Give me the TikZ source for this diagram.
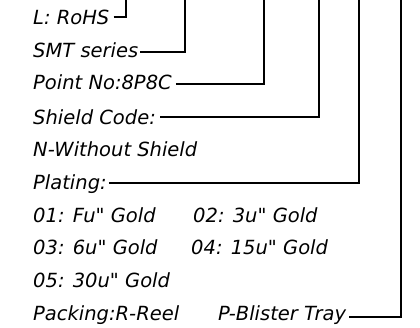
\documentclass[tikz,border=0pt]{standalone}
\usepackage{fontspec}
\setmainfont{DejaVu Sans}[Ligatures=TeXOff]
\begin{document}
\begin{tikzpicture}[x=1pt,y=-1pt,
  lbl/.style={anchor=base west, inner sep=0pt, font=\fontsize{19.5}{23}\selectfont\itshape},
  ln/.style={line width=1.6pt, line join=miter}]
\useasboundingbox (0,0) rectangle (420,328);
\node[lbl] (rohs) at (33,25) {L: RoHS};
\node[lbl] (smt) at (33,58) {SMT series};
\node[lbl] (pt) at (33,90) {Point No:8P8C};
\node[lbl] (sc) at (33,125) {Shield Code:};
\node[lbl] (nw) at (33,157) {N-Without Shield};
\node[lbl] (pl) at (33,190) {Plating:};
\node[lbl] (g1) at (33,223) {01: Fu" Gold};
\node[lbl] (g2) at (193,223) {02: 3u" Gold};
\node[lbl] (g3) at (33,255) {03: 6u" Gold};
\node[lbl] (g4) at (191,255) {04: 15u" Gold};
\node[lbl] (g5) at (33,288) {05: 30u" Gold};
\node[lbl] (pk) at (33,320) {Packing:R-Reel};
\node[lbl] (pb) at (218,320) {P-Blister Tray};
\coordinate (t1) at (126,-1);
\coordinate (t2) at (185,-1);
\coordinate (t3) at (264,-1);
\coordinate (t4) at (319,-1);
\coordinate (t5) at (359,-1);
\coordinate (t6) at (401,-1);
\draw[ln] ([shift={(4,-8)}]rohs.base east) -| (t1);
\draw[ln] ([shift={(2,-6)}]smt.base east) -| (t2);
\draw[ln] ([shift={(4,-6)}]pt.base east) -| (t3);
\draw[ln] ([shift={(4,-8)}]sc.base east) -| (t4);
\draw[ln] ([shift={(2,-7)}]pl.base east) -| (t5);
\draw[ln] ([shift={(3,-3)}]pb.base east) -| (t6);
\end{tikzpicture}
\end{document}
